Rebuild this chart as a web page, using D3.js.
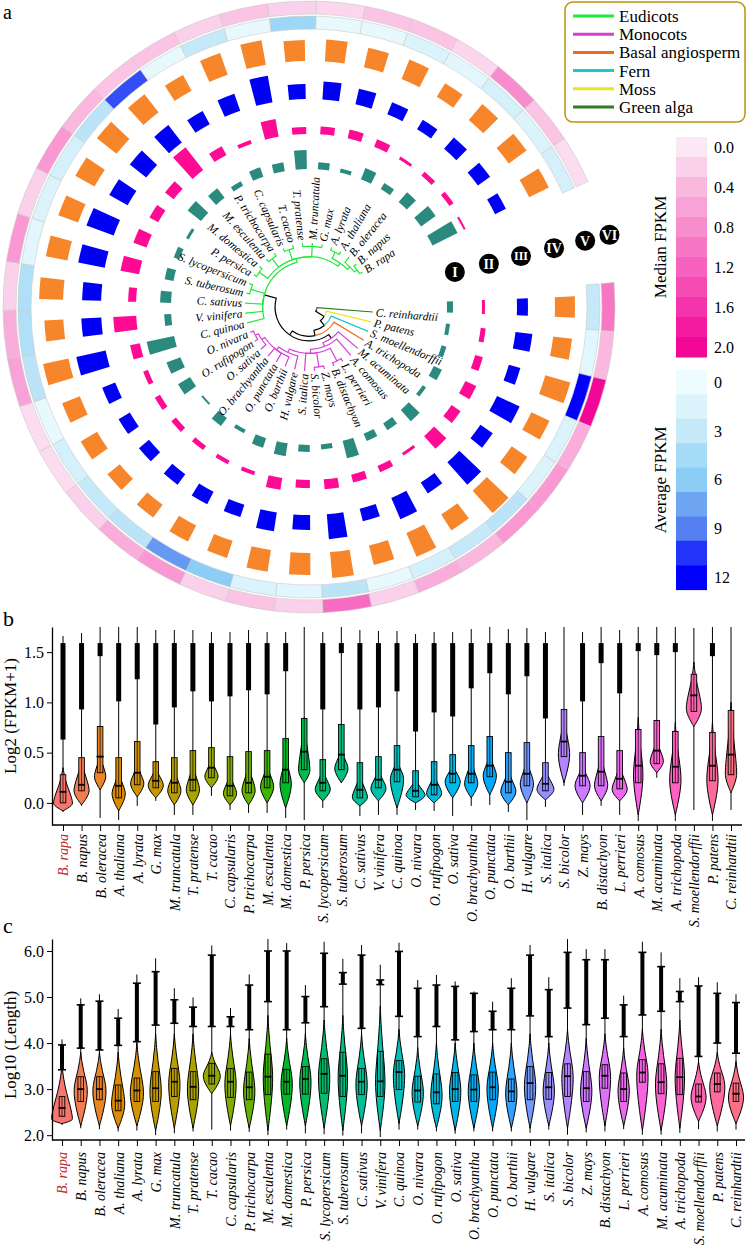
<!DOCTYPE html>
<html><head><meta charset="utf-8">
<script src="https://cdn.jsdelivr.net/npm/d3@7"></script>
<style>
body{margin:0;background:#fff}
svg{display:block}
text{font-family:"Liberation Serif","Times New Roman",serif}
</style>
</head><body>
<svg id="c" width="747" height="1247"></svg>
<script>
// ---------------- DATA ----------------
const species = ["C. reinhardtii","P. patens","S. moellendorffii","A. trichopoda","M. acuminata","A. comosus","L. perrieri","B. distachyon","Z. mays","S. bicolor","S. italica","H. vulgare","O. barthii","O. punctata","O. brachyantha","O. sativa","O. rufipogon","O. nivara","C. quinoa","V. vinifera","C. sativus","S. tuberosum","S. lycopersicum","P. persica","M. domestica","M. esculenta","P. trichocarpa","C. capsularis","T. cacao","T. pratense","M. truncatula","G. max","A. lyrata","A. thaliana","B. oleracea","B. napus","B. rapa"];
const speciesGroup = ["Green alga","Moss","Fern","Basal angiosperm",
  "Monocots","Monocots","Monocots","Monocots","Monocots","Monocots","Monocots","Monocots","Monocots","Monocots","Monocots","Monocots","Monocots","Monocots",
  "Eudicots","Eudicots","Eudicots","Eudicots","Eudicots","Eudicots","Eudicots","Eudicots","Eudicots","Eudicots","Eudicots","Eudicots","Eudicots","Eudicots","Eudicots","Eudicots","Eudicots","Eudicots","Eudicots"];
const groups = ["Eudicots","Monocots","Basal angiosperm","Fern","Moss","Green alga"];
const groupColors = ["#22e83c","#d43fd4","#f26b1d","#1fc8c8","#e6e61a","#2e7d1e"];
// tree topology as nested lists (leaf order = species order)
const tree = ["C. reinhardtii", ["P. patens", ["S. moellendorffii", ["A. trichopoda", [
  ["M. acuminata", ["A. comosus", [["L. perrieri","B. distachyon"], ["Z. mays","S. bicolor"], "S. italica",
     ["H. vulgare", ["O. barthii","O. punctata","O. brachyantha", ["O. sativa", ["O. rufipogon","O. nivara"]]]]]]],
  ["C. quinoa","V. vinifera","C. sativus", ["S. tuberosum","S. lycopersicum"],
     [["P. persica","M. domestica"], ["M. esculenta","P. trichocarpa"], ["C. capsularis","T. cacao"],
      ["T. pratense","M. truncatula","G. max"], [["A. lyrata","A. thaliana"], ["B. oleracea", ["B. napus","B. rapa"]]]]]
]]]]];

// circular tracks (relative bar lengths), circle order
const trackI   = [6,4,5,9,4,15,8,8,18,5,7,13,10,4,10,2,14,15,28,7,11,9,6,3,17,12,5,10,9,19,7,4,12,7,13,18,28];
const trackII  = [3,5,8,12,11,17,3,7,8,10,8,12,4,4,5,6,6,5,10,23,8,19,14,10,11,29,10,4,18,7,8,9,8,3,5,5,2];
const trackIII = [11,17,12,25,15,30,13,23,13,25,15,19,13,14,13,13,13,14,30,20,19,27,29,21,21,22,15,18,27,15,18,16,13,11,15,15,12];
const trackIV  = [20,19,26,20,19,30,19,26,20,26,22,22,18,18,16,16,19,19,26,19,24,22,21,22,25,23,18,23,25,21,22,20,21,16,21,22,22];
const avgFPKM    = [3,1,12,1.5,1.5,3.5,3,2,0.5,3.5,1,1.5,6,8,3.5,3,2,0.5,3.5,4,4,1,1.5,2,3.5,10,0.5,3,0.5,5,0.5,0.5,1.5,1,2,1.5,2];
const medianFPKM = [1.0,0.4,2.0,0.5,0.7,0.7,0.4,0.5,0.2,1.1,0.2,0.3,0.2,0.7,0.5,0.2,0.1,0.1,0.6,0.5,0.2,0.7,0.2,0.7,0.4,0.3,0.3,0.2,0.3,0.2,0.15,0.3,0.3,0.15,0.8,0.3,0.1];
const trackLabels = ["I","II","III","IV","V","VI"];

// legends
const medianTicks = [0.0,0.2,0.4,0.6,0.8,1.0,1.2,1.4,1.6,1.8,2.0];
const medianColors = ["#fce8f4","#fbd0ea","#fab8df","#f9a2d7","#f88dce","#f777c5","#f662bd","#f54bb3","#f434aa","#f31ca0","#f20896"];
const avgTicks = [0,1.5,3,4.5,6,7.5,9,10.5,12];
const avgColors = ["#effcff","#dbf4fc","#c5e9f8","#a6dbf7","#8bcdf5","#6ea6f3","#5480f2","#2233fa","#0000fb"];

// violin panels (order of panels b and c)
const vOrder = species.slice().reverse();
const bLo   = [-0.09,-0.03,-0.15,-0.17,-0.03,0.02,-0.12,-0.12,0.07,-0.07,-0.1,-0.1,-0.15,-0.17,-0.05,0.2,-0.13,-0.12,-0.12,-0.07,-0.08,-0.13,-0.03,-0.02,-0.09,-0.17,-0.04,0.17,-0.12,-0.03,-0.12,-0.18,0.25,-0.18,-0.07,-0.18,-0.07];
const bHi   = [1.66,1.69,1.75,1.75,1.75,1.72,1.72,1.72,1.7,1.7,1.72,1.7,1.7,1.75,1.7,1.75,1.72,1.71,1.71,1.68,1.7,1.7,1.73,1.75,1.73,1.74,1.7,1.75,1.7,1.75,1.72,1.75,1.75,1.75,1.74,1.75,1.75];
const bOutLo = [0.63,0.93,1.46,1.01,1.23,0.78,0.95,1.11,1.01,1.06,1.12,1.08,1.31,null,0.93,1.49,0.93,0.95,1.11,0.71,0.9,0.86,1.14,1.29,1.08,1.26,0.84,null,1.01,1.39,1.09,1.51,1.47,1.5,null,1.46,null];
const bOutHi = [1.59,1.59,1.59,1.59,1.59,1.59,1.59,1.59,1.59,1.59,1.59,1.59,1.59,null,1.59,1.59,1.59,1.59,1.59,1.59,1.59,1.59,1.59,1.59,1.59,1.59,1.59,null,1.59,1.59,1.59,1.59,1.59,1.59,null,1.59,null];
const bQ1   = [0.0,0.12,0.30,0.05,0.18,0.15,0.1,0.12,0.25,0.07,0.1,0.15,0.2,0.33,0.12,0.33,0.05,0.15,0.21,0.06,0.08,0.2,0.2,0.26,0.1,0.17,0.12,0.46,0.17,0.17,0.14,0.2,0.39,0.2,0.91,0.22,0.28];
const bMed  = [0.11,0.18,0.46,0.17,0.30,0.22,0.2,0.23,0.35,0.17,0.2,0.26,0.33,0.51,0.2,0.48,0.13,0.23,0.33,0.12,0.18,0.29,0.29,0.37,0.21,0.29,0.19,0.61,0.27,0.31,0.24,0.37,0.52,0.36,1.07,0.37,0.48];
const bQ3   = [0.28,0.45,0.76,0.45,0.61,0.41,0.45,0.52,0.55,0.46,0.51,0.52,0.64,0.84,0.43,0.78,0.40,0.46,0.57,0.32,0.41,0.48,0.57,0.66,0.5,0.6,0.4,0.93,0.5,0.66,0.52,0.73,0.82,0.71,1.28,0.7,0.92];
const bVb   = [-0.08,-0.02,0.13,-0.08,0.06,0.05,-0.02,-0.02,0.15,-0.02,-0.02,0.0,-0.05,0.2,0.02,0.2,-0.03,0.02,-0.05,0.0,0.0,0.05,0.05,0.08,-0.02,0.0,0.03,0.2,0.0,0.02,0.02,-0.12,0.3,-0.12,0.76,-0.12,0.1];
const bMode = [0.0,0.13,0.27,0.1,0.2,0.18,0.13,0.14,0.27,0.1,0.13,0.17,0.2,0.33,0.14,0.35,0.06,0.15,0.25,0.08,0.1,0.22,0.2,0.28,0.12,0.2,0.14,0.5,0.18,0.18,0.14,0.3,0.42,0.25,0.95,0.25,0.3];
const bVt   = [0.35,0.45,0.5,0.33,0.4,0.37,0.35,0.4,0.45,0.3,0.4,0.4,0.5,0.85,0.35,0.55,0.3,0.35,0.45,0.25,0.3,0.4,0.45,0.5,0.35,0.45,0.35,0.9,0.4,0.5,0.4,0.85,0.65,0.8,1.4,0.8,1.0];
const bW    = [10,8,6,7,7,8,7,7,7,7,7,7,6,6,8,7,8,8,7,10,8,8,7,7,8,7,9,6,8,7,8,5,7,6,8,6,6];
const bTicks = [0.0,0.5,1.0,1.5];

const cLo   = [2.22,2.15,2.13,2.08,2.1,2.0,2.04,2.08,2.12,2.1,2.07,2.0,2.12,2.04,2.02,1.99,2.04,1.96,2.12,2.12,2.08,2.03,2.08,2.08,2.08,2.05,2.12,2.01,2.06,2.08,2.13,2.01,2.01,2.05,2.13,2.08,2.12];
const cHi   = [4.08,4.97,5.06,4.74,5.49,5.84,5.19,4.99,6.12,4.76,5.49,6.26,6.17,5.26,6.2,5.83,6.13,5.7,6.18,5.37,5.48,5.34,5.12,4.9,5.41,6.13,5.43,6.26,6.04,6.04,5.03,6.2,5.97,5.41,5.43,5.32,5.06];
const cOutLo = [3.42,3.89,3.85,3.95,4.03,4.39,4.43,4.36,4.36,4.36,4.29,4.9,4.29,4.44,4.79,5.28,4.32,5.27,4.58,4.14,4.36,4.07,4.25,4.29,4.29,4.59,4.14,4.76,4.4,4.54,4.14,4.61,4.69,4.9,3.71,4.0,3.78];
const cOutHi = [3.96,4.83,4.91,4.54,5.3,5.55,4.94,4.78,5.91,4.57,5.26,6.0,6.0,5.01,5.95,5.53,5.91,5.37,5.99,5.19,5.26,5.23,5.08,4.69,5.19,5.91,5.16,5.97,5.81,5.81,4.83,5.97,5.66,5.12,5.24,5.08,4.88];
const cQ1   = [2.41,2.73,2.77,2.53,2.73,2.73,2.84,2.77,3.11,2.82,2.77,2.88,2.89,2.89,2.91,2.84,2.88,2.84,2.99,2.72,2.68,2.73,2.73,2.77,2.73,2.77,2.78,2.84,2.73,3.02,2.73,3.15,2.9,2.88,2.72,2.94,2.73];
const cMed  = [2.59,3.0,3.0,2.75,2.97,3.02,3.16,3.05,3.29,3.16,3.04,3.27,3.16,3.22,3.33,3.29,3.16,3.17,3.37,2.97,2.93,3.0,2.99,3.04,2.95,3.13,3.04,3.28,3.02,3.29,3.0,3.36,3.15,3.26,2.84,3.11,2.9];
const cQ3   = [2.84,3.27,3.27,3.09,3.24,3.38,3.45,3.38,3.56,3.45,3.37,3.76,3.43,3.49,3.66,3.8,3.45,3.82,3.62,3.28,3.33,3.36,3.31,3.37,3.22,3.49,3.36,3.55,3.38,3.53,3.35,3.64,3.55,3.67,3.11,3.35,3.13];
const cVb   = [2.25,2.2,2.2,2.15,2.2,2.1,2.15,2.15,2.9,2.2,2.15,2.1,2.2,2.2,2.15,2.1,2.2,2.1,2.25,2.2,2.15,2.1,2.15,2.15,2.15,2.15,2.2,2.15,2.15,2.2,2.2,2.1,2.1,2.15,2.3,2.2,2.25];
const cMode = [2.35,3.0,3.0,2.7,2.95,3.0,3.15,3.05,3.3,3.15,3.0,3.3,3.15,3.2,3.3,3.3,3.15,3.2,3.35,2.95,2.9,3.0,3.0,3.05,2.95,3.1,3.0,3.3,3.0,3.3,3.0,3.35,3.15,3.3,2.85,3.1,2.85];
const cVt   = [3.5,3.8,3.8,3.8,4.0,4.2,4.2,4.2,3.8,4.2,4.1,4.6,4.1,4.2,4.5,4.6,4.2,4.8,4.3,3.9,4.0,4.0,4.0,4.0,4.0,4.2,4.0,4.3,4.1,4.2,3.9,4.3,4.3,4.5,3.6,3.8,3.6];
const cW    = [11,7,7,7,7,6,6,6,9,6,6,5,6,6,6,5,6,5,6,6,6,6,6,6,6,6,6,6,6,6,6,6,6,5,8,8,8];
const cTicks = [2.0,3.0,4.0,5.0,6.0];

// ---------------- HELPERS ----------------
const svg = d3.select("#c");
const gc = g => groupColors[groups.indexOf(g)];
const groupOf = name => speciesGroup[species.indexOf(name)];
const toNode = t => Array.isArray(t) ? {children: t.map(toNode)} : {name: t};

// ggplot-style hue palette (polar LUV)
function hclHex(h, c, l){
  const Xn=95.047, Yn=100, Zn=108.883;
  const hr = h*Math.PI/180, u = c*Math.cos(hr), v = c*Math.sin(hr);
  const Y = Yn*Math.pow((l+16)/116, 3);
  const den = Xn + 15*Yn + 3*Zn, un = 4*Xn/den, vn = 9*Yn/den;
  const up = u/(13*l) + un, vp = v/(13*l) + vn;
  const X = Y*9*up/(4*vp), Z = Y*(12 - 3*up - 20*vp)/(4*vp);
  const x = X/100, y = Y/100, z = Z/100;
  const lin = [3.2404542*x - 1.5371385*y - 0.4985314*z,
               -0.9692660*x + 1.8760108*y + 0.0415560*z,
               0.0556434*x - 0.2040259*y + 1.0572252*z];
  const g = t => { t = t <= 0.0031308 ? 12.92*t : 1.055*Math.pow(Math.max(t,0), 1/2.4) - 0.055; return Math.max(0, Math.min(1, t))*255; };
  return d3.rgb(g(lin[0]), g(lin[1]), g(lin[2])).formatHex();
}
const hueColors = vOrder.map((s, k) => hclHex(15 + k*360/vOrder.length, 100, 65));

// ---------------- PANEL A ----------------
svg.append("text").attr("x", 3).attr("y", 19).attr("font-size", 20).text("a");

const cx = 309, cy = 307;
const rad = d => d*Math.PI/180;
const pt = (deg, r) => [cx + r*Math.cos(rad(deg)), cy + r*Math.sin(rad(deg))];
const ang = d3.scalePoint().domain(species).range([0, 331.2]);
const step = ang.step();
const dA = deg => rad(deg + 90);
const arcGen = d3.arc();
const gA = svg.append("g").attr("transform", `translate(${cx},${cy})`);

const lenScale = d3.scaleLinear().domain([0, 30]).range([0, 30]);
const tracks = [
  {vals: trackI,   base: 138, color: "#2b8a7e"},
  {vals: trackII,  base: 173, color: "#ff0a94"},
  {vals: trackIII, base: 208, color: "#0000f5"},
  {vals: trackIV,  base: 246, color: "#f7862b"}
];
tracks.forEach(t => {
  gA.append("g").selectAll("path").data(species).join("path")
    .attr("d", (s, i) => arcGen({innerRadius: t.base, outerRadius: t.base + lenScale(t.vals[i]),
      startAngle: dA(ang(s) - 2.3), endAngle: dA(ang(s) + 2.3)}))
    .attr("fill", t.color);
});

const avgScale = d3.scaleLinear().domain(avgTicks).range(avgColors).clamp(true);
const medScale = d3.scaleLinear().domain(medianTicks).range(medianColors).clamp(true);
[[avgFPKM, avgScale, 278, 291], [medianFPKM, medScale, 293, 306]].forEach(([vals, sc, r0, r1]) => {
  gA.append("g").selectAll("path").data(species).join("path")
    .attr("d", s => arcGen({innerRadius: r0, outerRadius: r1,
      startAngle: dA(ang(s) - step/2), endAngle: dA(ang(s) + step/2)}))
    .attr("fill", (s, i) => sc(vals[i]))
    .attr("stroke", "#c9c9c9").attr("stroke-width", 0.6);
});

// track labels
const labelR = [150, 185, 218, 252, 284, 309];
trackLabels.forEach((t, k) => {
  const [x, y] = pt(-13.5, labelR[k]);
  svg.append("circle").attr("cx", x).attr("cy", y).attr("r", 10).attr("fill", "#000");
  svg.append("text").attr("x", x).attr("y", y).attr("dy", "0.35em").attr("text-anchor", "middle")
    .attr("fill", "#fff").attr("font-size", t.length > 2 ? 12 : 14).attr("font-weight", "bold").text(t);
});

// tree
const troot = d3.hierarchy(toNode(tree));
d3.cluster().size([331.2, 1]).separation(() => 1)(troot);
const H = troot.height;
const rS = d3.scalePow().exponent(0.7).domain([0, 1]).range([8, 64]);
troot.each(n => {
  n.r = rS(1 - n.height/H);
  const gs = new Set(n.leaves().map(l => groupOf(l.data.name)));
  n.group = gs.size === 1 ? [...gs][0] : null;
});
const gT = svg.append("g");
troot.links().forEach(({source: p, target: c}) => {
  const col = p.group ? gc(p.group) : (c.children ? "#000" : gc(c.group));
  const a = pt(c.x, c.r), b = pt(c.x, p.r), e = pt(p.x, p.r);
  const sweep = p.x > c.x ? 1 : 0, large = Math.abs(p.x - c.x) > 180 ? 1 : 0;
  gT.append("path")
    .attr("d", `M${a[0]},${a[1]}L${b[0]},${b[1]}A${p.r},${p.r} 0 ${large} ${sweep} ${e[0]},${e[1]}`)
    .attr("fill", "none").attr("stroke", col).attr("stroke-width", 1.2);
});
troot.leaves().forEach(l => {
  const left = l.x > 90 && l.x < 270;
  const [x, y] = pt(l.x, 67);
  gT.append("text").attr("transform", `translate(${x},${y}) rotate(${left ? l.x + 180 : l.x})`)
    .attr("text-anchor", left ? "end" : "start").attr("dy", "0.35em")
    .attr("font-size", 11.5).attr("font-style", "italic").text(l.data.name);
});

// group legend
const gL = svg.append("g");
gL.append("rect").attr("x", 565).attr("y", 2).attr("width", 180).attr("height", 120).attr("rx", 8)
  .attr("fill", "#fff").attr("stroke", "#b8960b").attr("stroke-width", 1.5);
groups.forEach((g, k) => {
  const y = 16 + k*18.2;
  gL.append("line").attr("x1", 573).attr("x2", 614).attr("y1", y).attr("y2", y)
    .attr("stroke", groupColors[k]).attr("stroke-width", 3);
  gL.append("text").attr("x", 619).attr("y", y).attr("dy", "0.35em").attr("font-size", 17).text(g);
});

// color legends
function colorLegend(ticks, colors, y0, h, labelEvery, fmt, title){
  const g = svg.append("g");
  ticks.forEach((t, k) => {
    g.append("rect").attr("x", 676).attr("y", y0 + k*h).attr("width", 31).attr("height", h + 0.5).attr("fill", colors[k]);
    if (k % labelEvery === 0)
      g.append("text").attr("x", 714).attr("y", y0 + k*h + h/2).attr("dy", "0.35em").attr("font-size", 16).text(fmt(t));
  });
  g.append("text").attr("transform", `translate(666,${y0 + ticks.length*h/2}) rotate(-90)`)
    .attr("text-anchor", "middle").attr("font-size", 17).text(title);
}
colorLegend(medianTicks, medianColors, 137, 20, 2, d3.format(".1f"), "Median FPKM");
colorLegend(avgTicks, avgColors, 370, 24.4, 2, d3.format("d"), "Average FPKM");

// ---------------- PANELS B, C ----------------
function violinPanel(cfg){
  const y = d3.scaleLinear().domain(cfg.domain).range([cfg.bottom, cfg.top]);
  const x = d3.scalePoint().domain(vOrder).range(cfg.xr);
  const g = svg.append("g");
  const clampV = v => Math.max(cfg.domain[0], Math.min(cfg.domain[1], v));
  const area = d3.area().y(d => y(d[0])).x0(d => d[2] - d[1]).x1(d => d[2] + d[1]).curve(d3.curveBasis);
  const lowT = [0, 0.35, 0.7, 1], lowW = [0, 0.5, 0.88, 1];
  const upT = [0.25, 0.5, 0.75, 1], upW = [0.75, 0.4, 0.15, 0];
  vOrder.forEach((s, i) => {
    const cxp = x(s), col = hueColors[i], d = cfg.data;
    g.append("line").attr("x1", cxp).attr("x2", cxp).attr("y1", y(clampV(d.lo[i]))).attr("y2", y(clampV(d.hi[i])))
      .attr("stroke", "#000").attr("stroke-width", 1);
    if (d.outLo[i] != null){
      g.append("rect").attr("x", cxp - cfg.outW/2).attr("width", cfg.outW)
        .attr("y", y(d.outHi[i])).attr("height", y(d.outLo[i]) - y(d.outHi[i])).attr("fill", "#000");
      if (cfg.cross){
        [d.outLo[i], d.outHi[i]].forEach(v => g.append("line").attr("x1", cxp - 4).attr("x2", cxp + 4)
          .attr("y1", y(v)).attr("y2", y(v)).attr("stroke", "#000").attr("stroke-width", 1.6));
      }
    }
    const vb = d.vb[i], m = d.mode[i], vt = d.vt[i], w = d.w[i];
    const pts = lowT.map((t, k) => [vb + (m - vb)*t, w*lowW[k], cxp])
      .concat(upT.map((t, k) => [m + (vt - m)*t, w*upW[k], cxp]));
    g.append("path").attr("d", area(pts)).attr("fill", col).attr("stroke", "#000").attr("stroke-width", 1);
    g.append("rect").attr("x", cxp - 2.8).attr("width", 5.6).attr("y", y(d.q3[i])).attr("height", y(d.q1[i]) - y(d.q3[i]))
      .attr("fill", col).attr("stroke", "#000").attr("stroke-width", 0.9);
    g.append("line").attr("x1", cxp).attr("x2", cxp).attr("y1", y(d.q3[i])).attr("y2", y(d.q1[i]))
      .attr("stroke", "#000").attr("stroke-width", 0.7);
    g.append("line").attr("x1", cxp - 3.5).attr("x2", cxp + 3.5).attr("y1", y(d.med[i])).attr("y2", y(d.med[i]))
      .attr("stroke", "#000").attr("stroke-width", 1.8);
  });
  const ya = g.append("g").attr("transform", `translate(${cfg.axisX},0)`)
    .call(d3.axisLeft(y).tickValues(cfg.ticks).tickFormat(d3.format(".1f")).tickSize(5).tickSizeOuter(0));
  ya.select(".domain").attr("stroke-width", 1.3);
  ya.selectAll("text").attr("font-size", 16).attr("font-family", "Liberation Serif").attr("fill", "#000");
  const xa = g.append("g").attr("transform", `translate(0,${cfg.bottom})`)
    .call(d3.axisBottom(x).tickSize(6).tickSizeOuter(0));
  xa.select(".domain").remove();
  xa.selectAll("text").attr("transform", "rotate(-90)").attr("text-anchor", "end")
    .attr("x", -cfg.labelGap).attr("y", 0).attr("dy", "0.35em")
    .attr("font-size", 14).attr("font-style", "italic").attr("font-family", "Liberation Serif")
    .attr("fill", s => s === "B. rapa" ? "#c0282d" : "#000");
  g.append("line").attr("x1", cfg.axisX).attr("x2", cfg.axisEnd).attr("y1", cfg.bottom).attr("y2", cfg.bottom)
    .attr("stroke", "#000").attr("stroke-width", 1.3);
  g.append("text").attr("transform", `translate(16,${cfg.titleY}) rotate(-90)`).attr("text-anchor", "middle")
    .attr("font-size", 17).text(cfg.title);
  g.append("text").attr("x", 3).attr("y", cfg.letterY).attr("font-size", 22).text(cfg.letter);
}

violinPanel({
  domain: [-0.22, 1.75], top: 627, bottom: 825, xr: [63, 731], axisX: 52, axisEnd: 742,
  ticks: bTicks, title: "Log2 (FPKM+1)", titleY: 716, letter: "b", letterY: 626, labelGap: 9, outW: 5, cross: false,
  data: {lo: bLo, hi: bHi, outLo: bOutLo, outHi: bOutHi, q1: bQ1, med: bMed, q3: bQ3, vb: bVb, mode: bMode, vt: bVt, w: bW}
});
violinPanel({
  domain: [1.895, 6.26], top: 939, bottom: 1140, xr: [62, 736], axisX: 52, axisEnd: 745,
  ticks: cTicks, title: "Log10 (Length)", titleY: 1045, letter: "c", letterY: 933, labelGap: 12, outW: 4, cross: true,
  data: {lo: cLo, hi: cHi, outLo: cOutLo, outHi: cOutHi, q1: cQ1, med: cMed, q3: cQ3, vb: cVb, mode: cMode, vt: cVt, w: cW}
});
</script>
</body></html>
